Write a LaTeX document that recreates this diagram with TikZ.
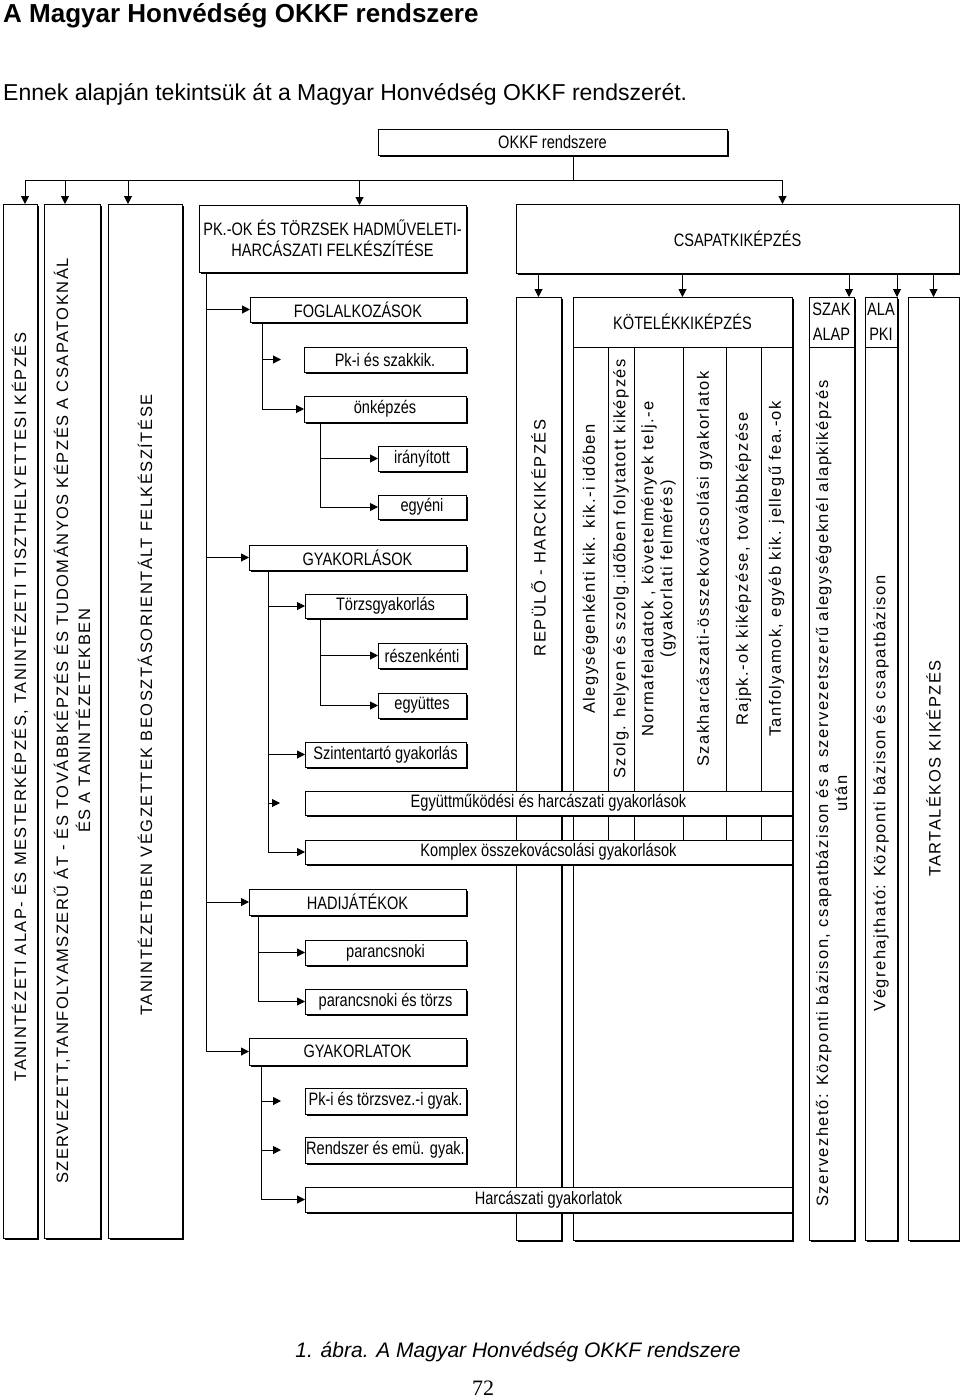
\documentclass[tikz,border=0pt]{standalone}
\usepackage{fontspec}
\setmainfont{Liberation Sans}
\newfontfamily\okkfnarrow[FakeStretch=0.81]{Liberation Sans}
\newfontfamily\okkfspaced[LetterSpace=9]{Liberation Sans}
\newfontfamily\okkfserif{Liberation Serif}
\usetikzlibrary{
  arrows.meta,
  calc,
  shadows
}
\tikzset{
  okkfbox/.style={
    draw,
    line width=1pt,
    fill=white,
    anchor=north west,
    inner sep=0pt,
    outer sep=0pt,
    align=center,
    font=\okkfnarrow\fontsize{18}{21}\selectfont,
    general shadow={fill=black, shadow xshift=1.5pt, shadow yshift=-1.5pt}
  },
  okkfvtext/.style={
    rotate=90,
    align=center,
    inner sep=0pt,
    font=\okkfspaced\fontsize{16.5}{20}\selectfont
  },
  okkfhead/.style={
    align=center,
    inner sep=0pt,
    font=\okkfnarrow\fontsize{18}{25}\selectfont
  },
  okkfline/.style={
    line width=1pt
  },
  okkfarrow/.style={
    -{Triangle[length=8pt,width=8pt]},
    line width=1pt
  },
  pagetitle/.style={
    anchor=base west,
    inner sep=0pt,
    font=\bfseries\fontsize{26}{30}\selectfont
  },
  pagetext/.style={
    anchor=base west,
    inner sep=0pt,
    font=\fontsize{23}{27}\selectfont
  }
}

\begin{document}
\begin{tikzpicture}[x=1pt, y=-1pt]
  \useasboundingbox (0,0) rectangle (960,1400);

  \node[pagetitle] (title) at (3,23) {A Magyar Honvédség OKKF rendszere};
  \node[pagetext] (intro) at (3,100)
    {Ennek alapján tekintsük át a Magyar Honvédség OKKF rendszerét.};

  \node[okkfbox, minimum width=349, minimum height=26] (okkf) at (378,129) {OKKF rendszere};

  % tanintezeti oszlopok
  \node[okkfbox, minimum width=34, minimum height=1034] (alapkepzes) at (3,204) {};
  \node[okkfbox, minimum width=56, minimum height=1034] (tovabbkepzes) at (44,204) {};
  \node[okkfbox, minimum width=74, minimum height=1034] (beosztas) at (108,204) {};
  \node[okkfvtext] (alapkepzestext) at ([yshift=14]alapkepzes.center)
    {TANINTÉZETI ALAP- ÉS MESTERKÉPZÉS, TANINTÉZETI TISZTHELYETTESI KÉPZÉS};
  \node[okkfvtext, font=\okkfspaced\fontsize{16.5}{22}\selectfont] (tovabbkepzestext) at (tovabbkepzes.center)
    {SZERVEZETT,TANFOLYAMSZERŰ ÁT - ÉS TOVÁBBKÉPZÉS ÉS TUDOMÁNYOS KÉPZÉS A CSAPATOKNÁL\\ÉS A TANINTÉZETEKBEN};
  \node[okkfvtext] (beosztastext) at ([yshift=16]beosztas.center)
    {TANINTÉZETBEN VÉGZETTEK BEOSZTÁSORIENTÁLT FELKÉSZÍTÉSE};

  % parancsnokok es torzsek
  \node[okkfbox, minimum width=267, minimum height=67] (pkok) at (199,205)
    {PK.-OK ÉS TÖRZSEK HADMŰVELETI-\\HARCÁSZATI FELKÉSZÍTÉSE};
  \node[okkfbox, minimum width=216, minimum height=25] (fogl) at (250,297) {FOGLALKOZÁSOK};
  \node[okkfbox, minimum width=162, minimum height=25] (pkszak) at (304,347) {Pk-i és szakkik.};
  \node[okkfbox, minimum width=162, minimum height=26] (onkepzes) at (304,396) {önképzés};
  \node[okkfbox, minimum width=88, minimum height=25] (iranyitott) at (378,446) {irányított};
  \node[okkfbox, minimum width=88, minimum height=24] (egyeni) at (378,495) {egyéni};
  \node[okkfbox, minimum width=217, minimum height=25] (gyakorlasok) at (249,545) {GYAKORLÁSOK};
  \node[okkfbox, minimum width=161, minimum height=24] (torzs) at (305,594) {Törzsgyakorlás};
  \node[okkfbox, minimum width=88, minimum height=25] (reszenkenti) at (378,643) {részenkénti};
  \node[okkfbox, minimum width=88, minimum height=25] (egyuttes) at (378,693) {együttes};
  \node[okkfbox, minimum width=161, minimum height=25] (szinten) at (305,742) {Szintentartó gyakorlás};
  \node[okkfbox, minimum width=217, minimum height=26] (hadi) at (249,889) {HADIJÁTÉKOK};
  \node[okkfbox, minimum width=161, minimum height=25] (parancs) at (305,940) {parancsnoki};
  \node[okkfbox, minimum width=161, minimum height=25] (partorzs) at (305,989) {parancsnoki és törzs};
  \node[okkfbox, minimum width=217, minimum height=27] (gyakorlatok) at (249,1038) {GYAKORLATOK};
  \node[okkfbox, minimum width=161, minimum height=26] (pktorzsvez) at (305,1088) {Pk-i és törzsvez.-i gyak.};
  \node[okkfbox, minimum width=161, minimum height=26] (rendszer) at (305,1137) {Rendszer és emü. gyak.};

  % csapatkikepzes
  \node[okkfbox, minimum width=443, minimum height=69] (csapat) at (516,204) {CSAPATKIKÉPZÉS};
  \node[okkfbox, minimum width=45, minimum height=943] (repulo) at (516,297) {};
  \node[okkfvtext] (repulotext) at ([yshift=-241]repulo.north) {REPÜLŐ - HARCKIKÉPZÉS};

  \node[okkfbox, minimum width=219, minimum height=943] (kotelek) at (573,297) {};
  \node[okkfhead] (kotelekhead) at ([yshift=-25]kotelek.north) {KÖTELÉKKIKÉPZÉS};
  \draw[okkfline] ([yshift=-50]kotelek.north west) -- ([yshift=-50]kotelek.north east);
  \foreach \dx in {35,61,110,153,188}
    \draw[okkfline] ([xshift=\dx, yshift=-50]kotelek.north west) -- ++(0,493);
  \node[okkfvtext] (alegyseg) at ([xshift=17.5, yshift=-272]kotelek.north west)
    {Alegységenkénti kik. kik.-i időben};
  \node[okkfvtext] (szolghely) at ([xshift=48, yshift=-272]kotelek.north west)
    {Szolg. helyen és szolg.időben folytatott kiképzés};
  \node[okkfvtext, font=\okkfspaced\fontsize{16.5}{19}\selectfont] (norma) at ([xshift=85.5, yshift=-272]kotelek.north west)
    {Normafeladatok , követelmények telj.-e\\(gyakorlati felmérés)};
  \node[okkfvtext] (szakharc) at ([xshift=131.5, yshift=-272]kotelek.north west)
    {Szakharcászati-összekovácsolási gyakorlatok};
  \node[okkfvtext] (rajpk) at ([xshift=170.5, yshift=-272]kotelek.north west)
    {Rajpk.-ok kiképzése, továbbképzése};
  \node[okkfvtext] (tanfoly) at ([xshift=203.5, yshift=-272]kotelek.north west)
    {Tanfolyamok, egyéb kik. jellegű fea.-ok};

  \node[okkfbox, minimum width=45, minimum height=943] (szak) at (809,297) {};
  \node[okkfhead] (szakhead) at ([yshift=-25]szak.north) {SZAK\\ALAP};
  \draw[okkfline] ([yshift=-50]szak.north west) -- ([yshift=-50]szak.north east);
  \node[okkfvtext, font=\okkfspaced\fontsize{16.5}{19}\selectfont] (szaktext) at ([yshift=-25]szak.center)
    {Szervezhető: Központi bázison, csapatbázison és a szervezetszerű alegységeknél alapkiképzés\\után};

  \node[okkfbox, minimum width=32, minimum height=943] (alapki) at (865,297) {};
  \node[okkfhead] (alapkihead) at ([yshift=-25]alapki.north) {ALA\\PKI};
  \draw[okkfline] ([yshift=-50]alapki.north west) -- ([yshift=-50]alapki.north east);
  \node[okkfvtext] (alapkitext) at ([yshift=-25]alapki.center)
    {Végrehajtható: Központi bázison és csapatbázison};

  \node[okkfbox, minimum width=51, minimum height=943] (tartalek) at (908,297) {};
  \node[okkfvtext] (tartalektext) at (tartalek.center) {TARTALÉKOS KIKÉPZÉS};

  % atfedo gyakorlasok
  \node[okkfbox, minimum width=487, minimum height=24] (egyuttmuk) at (305,791)
    {Együttműködési és harcászati gyakorlások};
  \node[okkfbox, minimum width=487, minimum height=24] (komplex) at (305,840)
    {Komplex összekovácsolási gyakorlások};
  \node[okkfbox, minimum width=487, minimum height=25] (harcaszati) at (305,1187)
    {Harcászati gyakorlatok};

  % felso gyujtosin
  \coordinate (bus) at ($([xshift=21]okkf.south)+(0,25)$);
  \draw[okkfline] ([xshift=21]okkf.south) -- (bus);
  \draw[okkfarrow] (bus) -| ([xshift=5]alapkepzes.north);
  \draw[okkfarrow] (bus) -| ([xshift=-7]tovabbkepzes.north);
  \draw[okkfarrow] (bus) -| ([xshift=-17]beosztas.north);
  \draw[okkfarrow] (bus) -| ([xshift=27]pkok.north);
  \draw[okkfarrow] (bus) -| ([xshift=45]csapat.north);

  % csapatkikepzes agai
  \coordinate (szakin) at ([xshift=-5]szak.north east);
  \draw[okkfarrow] (csapat.south -| repulo.north) -- (repulo.north);
  \draw[okkfarrow] (csapat.south -| kotelek.north) -- (kotelek.north);
  \draw[okkfarrow] (csapat.south -| szakin) -- (szakin);
  \draw[okkfarrow] (csapat.south -| alapki.north east) -- (alapki.north east);
  \draw[okkfarrow] (csapat.south -| tartalek.north) -- (tartalek.north);

  % parancsnoki fa
  \foreach \child in {fogl,gyakorlasok,hadi,gyakorlatok}
    \draw[okkfarrow] ([xshift=7]pkok.south west) |- (\child.west);
  \draw[okkfarrow] ([xshift=12]fogl.south west) |- ([xshift=-23]pkszak.west);
  \draw[okkfarrow] ([xshift=12]fogl.south west) |- (onkepzes.west);
  \draw[okkfarrow] ([xshift=16]onkepzes.south west) |- (iranyitott.west);
  \draw[okkfarrow] ([xshift=16]onkepzes.south west) |- (egyeni.west);
  \foreach \child in {torzs,szinten,komplex}
    \draw[okkfarrow] ([xshift=19]gyakorlasok.south west) |- (\child.west);
  \draw[okkfarrow] ([xshift=19]gyakorlasok.south west) |- ([xshift=-25]egyuttmuk.west);
  \draw[okkfarrow] ([xshift=15]torzs.south west) |- (reszenkenti.west);
  \draw[okkfarrow] ([xshift=15]torzs.south west) |- (egyuttes.west);
  \draw[okkfarrow] ([xshift=9]hadi.south west) |- (parancs.west);
  \draw[okkfarrow] ([xshift=9]hadi.south west) |- (partorzs.west);
  \draw[okkfarrow] ([xshift=12]gyakorlatok.south west) |- ([xshift=-24]pktorzsvez.west);
  \draw[okkfarrow] ([xshift=12]gyakorlatok.south west) |- ([xshift=-24]rendszer.west);
  \draw[okkfarrow] ([xshift=12]gyakorlatok.south west) |- (harcaszati.west);

  \node[anchor=base, inner sep=0pt, font=\itshape\fontsize{21}{25}\selectfont] (caption) at (518,1357)
    {1. ábra. A Magyar Honvédség OKKF rendszere};
  \node[anchor=base, inner sep=0pt, font=\okkfserif\fontsize{22}{26}\selectfont] (pagenum) at (483,1395) {72};
\end{tikzpicture}
\end{document}
